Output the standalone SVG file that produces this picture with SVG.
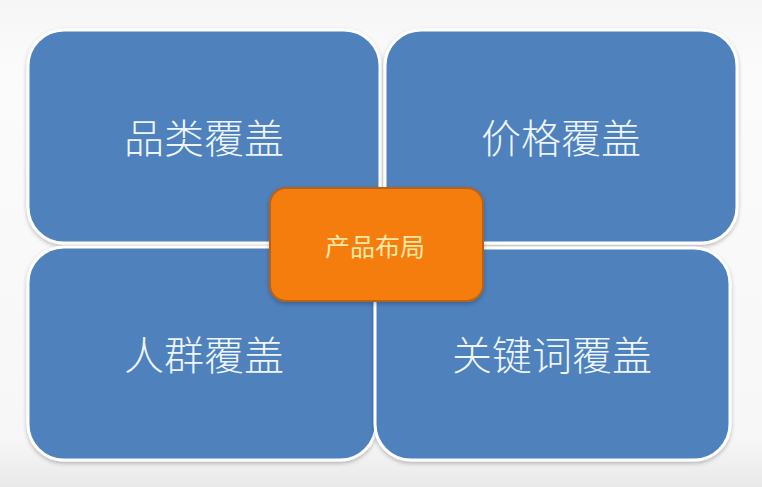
<svg xmlns="http://www.w3.org/2000/svg" width="762" height="487" viewBox="0 0 762 487">
  <defs>
    <linearGradient id="bg" x1="0" y1="0" x2="0" y2="1">
      <stop offset="0" stop-color="#f6f6f6"/>
      <stop offset="0.15" stop-color="#fbfbfb"/>
      <stop offset="0.9" stop-color="#f7f7f7"/>
      <stop offset="1" stop-color="#e9e9e9"/>
    </linearGradient>
    <filter id="sh" x="-5%" y="-5%" width="110%" height="115%">
      <feGaussianBlur in="SourceAlpha" stdDeviation="2"/>
      <feOffset dx="0" dy="2" result="b"/>
      <feComponentTransfer><feFuncA type="linear" slope="0.25"/></feComponentTransfer>
      <feMerge><feMergeNode/><feMergeNode in="SourceGraphic"/></feMerge>
    </filter>
  </defs>
  <style>
    .quad { fill: #4f81bd; stroke: #ffffff; stroke-width: 3; filter: url(#sh); }
    .qt { font-family: "Noto Sans CJK SC", "Noto Sans CJK TC", sans-serif; font-size: 40px; font-weight: 300; fill: #eef6fc; text-anchor: middle; dominant-baseline: central; }
    .core { fill: #f57d10; stroke: #b5621e; stroke-width: 2; filter: url(#sh); }
    .ct { font-family: "Noto Sans CJK SC", "Noto Sans CJK TC", sans-serif; font-size: 25px; fill: #fde9a6; text-anchor: middle; dominant-baseline: central; }
  </style>
  <rect x="0" y="0" width="762" height="487" fill="url(#bg)"/>
  <g id="connectors"/>
  <g id="node-category">
    <rect class="quad" x="28" y="30" width="352" height="213" rx="36" ry="36"/>
    <text class="qt" x="204" y="136">品类覆盖</text>
  </g>
  <g id="node-price">
    <rect class="quad" x="385" y="30" width="352" height="213" rx="36" ry="36"/>
    <text class="qt" x="561" y="136">价格覆盖</text>
  </g>
  <g id="node-crowd">
    <rect class="quad" x="28" y="247" width="348" height="213" rx="36" ry="36"/>
    <text class="qt" x="204" y="353">人群覆盖</text>
  </g>
  <g id="node-keyword">
    <rect class="quad" x="375" y="248" width="355" height="212" rx="36" ry="36"/>
    <text class="qt" x="552" y="353">关键词覆盖</text>
  </g>
  <g id="node-center">
    <rect class="core" x="270" y="188" width="213" height="113" rx="16" ry="16"/>
    <text class="ct" x="375" y="245">产品布局</text>
  </g>
</svg>
